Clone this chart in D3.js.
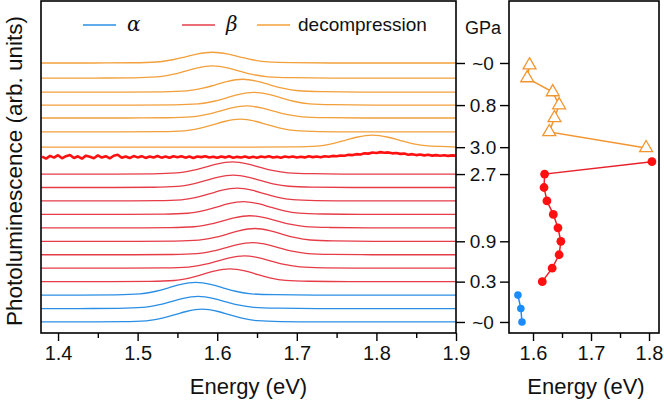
<!DOCTYPE html>
<html><head><meta charset="utf-8">
<script src="https://cdn.jsdelivr.net/npm/d3@7"></script>
<style>
body{margin:0;background:#fff;}
svg{display:block;font-family:"Liberation Sans",Arial,sans-serif;}
</style></head>
<body><svg id="c" width="664" height="409"></svg>
<script>
// ---------- data ----------
const energyTicks = [1.4, 1.5, 1.6, 1.7, 1.8, 1.9];
const energyMinor = [1.45, 1.55, 1.65, 1.75, 1.85];
const energyTicksR = [1.6, 1.7, 1.8];
const energyMinorR = [1.65, 1.75];
const pressureLabels = ["~0", "0.3", "0.9", "2.7", "3.0", "0.8", "~0"];
const pressureOffsets = [0, 3, 6, 11, 13, 16.13, 19.26];

// spectra: stacking offset, peak centre (eV), peak height (offset units)
const alphaOffsets = [0, 1, 2];
const alphaCenters = [1.581, 1.576, 1.573];
const alphaHeights = [0.95, 0.9, 0.95];
const betaOffsets = [3, 4, 5, 6, 7, 8, 9, 10, 11];
const betaCenters = [1.616, 1.634, 1.644, 1.647, 1.641, 1.633, 1.625, 1.620, 1.619];
const betaHeights = [0.95, 0.92, 0.9, 0.95, 0.9, 0.95, 0.95, 0.92, 0.9];
const decompOffsets = [13.0, 14.13, 15.17, 16.13, 17.1, 18.14, 19.26];
const decompCenters = [1.795, 1.629, 1.637, 1.646, 1.632, 1.594, 1.594];
const decompHeights = [0.9, 0.95, 0.9, 0.95, 0.95, 0.9, 0.8];

// shared normalised line shape (offset from centre in eV, relative intensity)
const profileDE = [-0.15, -0.10, -0.07, -0.05, -0.035, -0.02, 0, 0.02, 0.035, 0.05, 0.07, 0.10, 0.15];
const profileVal = [0.0, 0.02, 0.09, 0.30, 0.55, 0.82, 1.0, 0.82, 0.55, 0.30, 0.10, 0.03, 0.0];

// noisy high-pressure beta spectrum, sampled every 0.005 eV from 1.38 eV
const noisyOffset = 12.27;
const noisyStart = 1.38, noisyStep = 0.005;
const noisyValues = [0.03,-0.12,0.08,-0.05,0.13,-0.1,0.06,0.15,-0.08,0.05,-0.13,0.1,0.01,-0.09,0.12,-0.04,0.06,-0.1,0.09,0.16,
 -0.06,0.04,-0.08,0.07,-0.03,0.06,-0.07,0.04,-0.04,0.07,-0.05,0.03,-0.06,0.05,-0.02,0.06,-0.05,0.03,-0.07,0.04,
 -0.01,0.05,-0.04,0.02,-0.06,0.04,-0.03,0.05,-0.05,0.01,-0.04,0.04,-0.05,0.02,-0.06,0.03,-0.02,0.05,-0.04,0.01,
 -0.05,0.03,-0.02,0.04,-0.04,0.02,-0.03,0.05,-0.01,0.04,-0.02,0.06,0.02,0.08,0.05,0.11,0.09,0.16,0.14,0.21,
 0.19,0.27,0.25,0.33,0.3,0.36,0.31,0.34,0.27,0.3,0.23,0.25,0.17,0.21,0.14,0.18,0.12,0.16,0.1,0.14,
 0.09,0.13,0.08,0.12,0.1];

// right panel: peak energies vs stacking offset
const alphaPeakOffsets = [0, 1, 2];
const alphaPeaks = [1.581, 1.579, 1.574];
const betaPeakOffsets = [3, 4, 5, 6, 7, 8, 9, 10, 11, 11.92];
const betaPeaks = [1.616, 1.633, 1.645, 1.648, 1.643, 1.635, 1.624, 1.619, 1.620, 1.805];
const decompPeakOffsets = [12.94, 14.13, 15.17, 16.13, 17.1, 18.14, 19.1];
const decompPeaks = [1.795, 1.628, 1.637, 1.645, 1.634, 1.590, 1.594];

const legendLabels = ["α", "β", "decompression"];

// ---------- drawing ----------
const C = {alpha:"#2a8fe4", beta:"#e63c48", noisy:"#ff1010", decomp:"#f2a03c",
           alphaPt:"#1a8cff", betaPt:"#ff1010", betaLn:"#e8202a", decompPt:"#f29530"};
const svg = d3.select("#c");
const L = {x0:41, x1:456, y0:1, y1:333};
const R = {x0:509, x1:659};
const xL = d3.scaleLinear().domain([1.3786, 1.9]).range([L.x0, L.x1]);
const xR = d3.scaleLinear().domain([1.5586, 1.8172]).range([R.x0, R.x1]);
const y = d3.scaleLinear().domain([-0.82, 23.87]).range([L.y1, L.y0]);

svg.append("defs").append("clipPath").attr("id","clipL")
  .append("rect").attr("x",L.x0).attr("y",L.y0).attr("width",L.x1-L.x0).attr("height",L.y1-L.y0);

const line = d3.line().x(d=>xL(d[0])).y(d=>y(d[1])).curve(d3.curveMonotoneX);
function spectrum(off, c, h){
  const pts = [[1.3786, off]];
  profileDE.forEach((dE,i)=>{ pts.push([c+dE, off + h*profileVal[i]]); });
  pts.push([1.9, off]);
  pts.sort((a,b)=>a[0]-b[0]);
  return pts;
}
const gT = svg.append("g").attr("clip-path","url(#clipL)");
function drawGroup(offs, cens, hts, col){
  offs.forEach((o,i)=>{
    gT.append("path").attr("d", line(spectrum(o, cens[i], hts[i])))
      .attr("fill","none").attr("stroke",col).attr("stroke-width",1.3);
  });
}
drawGroup(alphaOffsets, alphaCenters, alphaHeights, C.alpha);
drawGroup(betaOffsets, betaCenters, betaHeights, C.beta);
drawGroup(decompOffsets, decompCenters, decompHeights, C.decomp);
const noisyPts = noisyValues.map((v,i)=>[noisyStart + i*noisyStep, noisyOffset + v]);
gT.append("path").attr("d", d3.line().x(d=>xL(d[0])).y(d=>y(d[1]))(noisyPts))
  .attr("fill","none").attr("stroke",C.noisy).attr("stroke-width",2.6).attr("stroke-linejoin","bevel");

// legend
const legCols = [C.alpha, C.beta, C.decomp];
const legX = [83, 182, 257];
legendLabels.forEach((t,i)=>{
  svg.append("line").attr("x1",legX[i]).attr("x2",legX[i]+33).attr("y1",25).attr("y2",25)
    .attr("stroke",legCols[i]).attr("stroke-width",1.3);
  svg.append("text").attr("x",legX[i]+(i<2?44:41)).attr("y",31).text(t)
    .attr("font-size",i<2?20:19).attr("fill","#111")
    .attr("font-style", i<2 ? "italic" : "normal")
    .attr("font-family", i<2 ? "'DejaVu Serif','Liberation Serif',serif" : null);
});

// frames
svg.append("rect").attr("x",L.x0).attr("y",L.y0).attr("width",L.x1-L.x0).attr("height",L.y1-L.y0)
  .attr("fill","none").attr("stroke","#000").attr("stroke-width",1.6);
svg.append("rect").attr("x",R.x0).attr("y",L.y0).attr("width",R.x1-R.x0).attr("height",L.y1-L.y0)
  .attr("fill","none").attr("stroke","#000").attr("stroke-width",1.6);

function styleAxis(g){
  g.select(".domain").remove();
  g.selectAll("line").attr("stroke","#000").attr("stroke-width",1.4);
  g.selectAll("text").attr("font-size",20).attr("fill","#111").attr("font-family","'Liberation Sans',Arial,sans-serif");
}
// bottom axes
svg.append("g").attr("transform",`translate(0,${L.y1})`)
  .call(d3.axisBottom(xL).tickValues(energyTicks).tickSize(8).tickPadding(5).tickFormat(d3.format(".1f"))).call(styleAxis);
svg.append("g").attr("transform",`translate(0,${L.y1})`)
  .call(d3.axisBottom(xL).tickValues(energyMinor).tickSize(5).tickFormat("")).call(styleAxis);
svg.append("g").attr("transform",`translate(0,${L.y1})`)
  .call(d3.axisBottom(xR).tickValues(energyTicksR).tickSize(8).tickPadding(5).tickFormat(d3.format(".1f"))).call(styleAxis);
svg.append("g").attr("transform",`translate(0,${L.y1})`)
  .call(d3.axisBottom(xR).tickValues(energyMinorR).tickSize(5).tickFormat("")).call(styleAxis);

// pressure axis between panels
svg.append("g").attr("transform",`translate(${L.x1},0)`)
  .call(d3.axisRight(y).tickValues(pressureOffsets).tickSize(9).tickFormat("")).call(styleAxis);
svg.append("g").attr("transform",`translate(${R.x0},0)`)
  .call(d3.axisLeft(y).tickValues(pressureOffsets).tickSize(9).tickFormat("")).call(styleAxis);
pressureLabels.forEach((t,i)=>{
  svg.append("text").attr("x",483).attr("y",y(pressureOffsets[i])).attr("dy","0.36em")
    .attr("text-anchor","middle").attr("font-size",19).attr("fill","#111").text(t);
});
svg.append("text").attr("x",483).attr("y",34).attr("text-anchor","middle")
  .attr("font-size",18).attr("fill","#111").text("GPa");

// axis titles
svg.append("text").attr("x",(L.x0+L.x1)/2).attr("y",394).attr("text-anchor","middle")
  .attr("font-size",22).attr("fill","#111").text("Energy (eV)");
svg.append("text").attr("x",(R.x0+R.x1)/2+2).attr("y",394).attr("text-anchor","middle")
  .attr("font-size",22).attr("fill","#111").text("Energy (eV)");
svg.append("text").attr("transform",`translate(22,${(L.y0+L.y1)/2 + 4}) rotate(-90)`)
  .attr("text-anchor","middle").attr("font-size",22.5).attr("fill","#111")
  .text("Photoluminescence (arb. units)");

// right panel points
const gR = svg.append("g");
const lineR = d3.line().x(d=>xR(d[0])).y(d=>y(d[1]));
function series(vals, offs){ return vals.map((v,i)=>[v, offs[i]]); }
const aS = series(alphaPeaks, alphaPeakOffsets);
const bS = series(betaPeaks, betaPeakOffsets);
const dS = series(decompPeaks, decompPeakOffsets);
gR.append("path").attr("d",lineR(aS)).attr("fill","none").attr("stroke",C.alphaPt).attr("stroke-width",1.5);
gR.append("path").attr("d",lineR(bS)).attr("fill","none").attr("stroke",C.betaLn).attr("stroke-width",1.5);
gR.append("path").attr("d",lineR(dS)).attr("fill","none").attr("stroke",C.decompPt).attr("stroke-width",1.5);
gR.selectAll(".a").data(aS).join("circle").attr("cx",d=>xR(d[0])).attr("cy",d=>y(d[1])).attr("r",3.8).attr("fill",C.alphaPt);
gR.selectAll(".b").data(bS).join("circle").attr("cx",d=>xR(d[0])).attr("cy",d=>y(d[1])).attr("r",4.4).attr("fill",C.betaPt);
const tri = d3.symbol().type(d3.symbolTriangle).size(72);
gR.selectAll(".d").data(dS).join("path").attr("d",tri)
  .attr("transform",d=>`translate(${xR(d[0])},${y(d[1])})`)
  .attr("fill","#fff").attr("stroke",C.decompPt).attr("stroke-width",1.3);
</script></body></html>
